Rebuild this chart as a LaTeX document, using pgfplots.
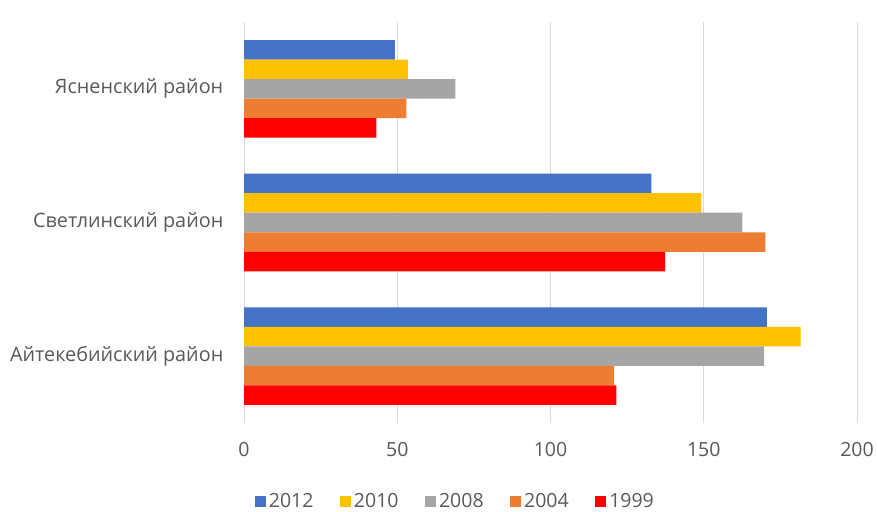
\documentclass[border=0pt]{standalone}
\usepackage{fontspec}
\setmainfont{Open Sans}
\usepackage{pgfplots}
\pgfplotsset{compat=1.18}
\definecolor{cblue}{HTML}{4472C4}
\definecolor{cyellow}{HTML}{FFC000}
\definecolor{cgray}{HTML}{A5A5A5}
\definecolor{corange}{HTML}{ED7D31}
\definecolor{cred}{HTML}{FF0000}
\definecolor{txt}{HTML}{595959}
\definecolor{grid}{HTML}{D9D9D9}
\begin{document}
\begin{tikzpicture}
\useasboundingbox (0,0) rectangle (877pt,511pt);
\fontsize{19.5}{23}\selectfont
\begin{axis}[
  at={(244pt,88pt)}, anchor=south west,
  xbar, scale only axis, width=613pt, height=401pt,
  xmin=0, xmax=200, ymin=-0.5, ymax=2.5,
  xtick={0,50,...,200}, ytick={0,1,2},
  yticklabels={Айтекебийский район, Светлинский район, Ясненский район},
  /pgf/number format/assume math mode=true,
  ticklabel style={font=\fontsize{19.5}{23}\selectfont, text=txt},
  yticklabel style={font=\fontsize{19.8}{23}\selectfont, xshift=-14pt},
  xticklabel style={yshift=-13pt},
  major tick length=0pt,
  axis line style={draw=none},
  xmajorgrids, grid style={draw=grid, line width=0.9pt},
  bar width=0.146,
  legend style={at={(0.344,-0.196)}, anchor=center, draw=none, fill=none,
    legend columns=-1, font=\fontsize{19.5}{23}\selectfont, text=txt,
    nodes={inner sep=1pt},
    /tikz/every even column/.append style={column sep=25.5pt},
    /tikz/every odd column/.append style={column sep=2pt}},
  legend image code/.code={\fill[#1] (0pt,-5.5pt) rectangle (11pt,5.5pt);},
]
\addplot[draw=none, fill=cblue, bar shift=0.292] coordinates {(49.2,2) (132.9,1) (170.6,0)};
\addplot[draw=none, fill=cyellow, bar shift=0.146] coordinates {(53.5,2) (149.2,1) (181.6,0)};
\addplot[draw=none, fill=cgray, bar shift=0] coordinates {(69,2) (162.6,1) (169.7,0)};
\addplot[draw=none, fill=corange, bar shift=-0.146] coordinates {(53,2) (170.1,1) (120.7,0)};
\addplot[draw=none, fill=cred, bar shift=-0.292] coordinates {(43.2,2) (137.4,1) (121.5,0)};
\legend{2012, 2010, 2008, 2004, 1999}
\end{axis}
\end{tikzpicture}
\end{document}
